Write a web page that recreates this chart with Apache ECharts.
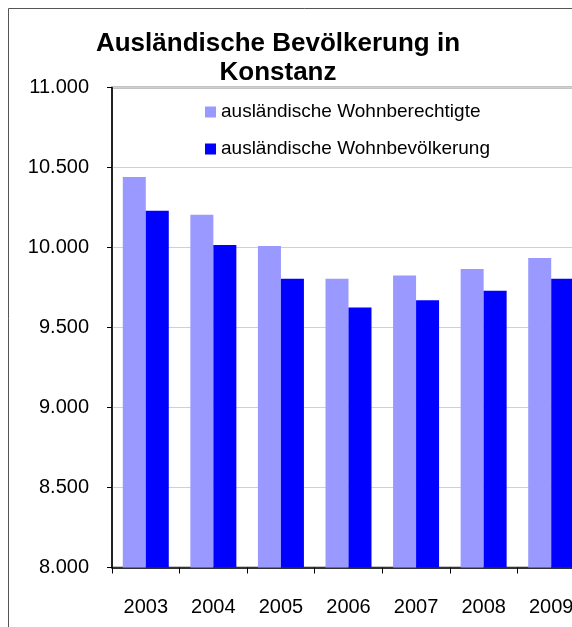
<!DOCTYPE html>
<html>
<head>
<meta charset="utf-8">
<script src="https://cdn.jsdelivr.net/npm/echarts@6/dist/echarts.min.js"></script>
<style>
  html, body { margin: 0; padding: 0; background: #fff; overflow: hidden; }
  /* the plot runs past the right edge of the picture, so the canvas is wider than the window */
  #main { width: 600px; height: 627px; }
</style>
</head>
<body>
<div id="main"></div>
<script>
// Ausländische Bevölkerung in Konstanz
var years = ['2003', '2004', '2005', '2006', '2007', '2008', '2009'];
var wohnberechtigte = [10440, 10205, 10010, 9805, 9825, 9865, 9935];
var wohnbevoelkerung = [10230, 10015, 9805, 9625, 9670, 9730, 9805];
var seriesNames = ['ausländische Wohnberechtigte', 'ausländische Wohnbevölkerung'];

var font = '"Liberation Sans", Arial, sans-serif';

// 11000 -> "11.000"
function fmt(v) {
  return String(v).replace(/\B(?=(\d{3})+(?!\d))/g, '.');
}

var chart = echarts.init(document.getElementById('main'));

var option = {
  animation: false,
  backgroundColor: '#fff',
  textStyle: { fontFamily: font },
  title: {
    text: 'Ausländische Bevölkerung in\nKonstanz',
    left: 273,
    top: 24,
    textAlign: 'center',
    textStyle: {
      fontFamily: font,
      fontSize: 26,
      fontWeight: 'bold',
      lineHeight: 29,
      color: '#000'
    }
  },
  legend: {
    orient: 'vertical',
    left: 205,
    top: 102,
    padding: 0,
    itemWidth: 11,
    itemHeight: 11,
    itemGap: 17,
    icon: 'rect',
    textStyle: { fontFamily: font, fontSize: 19, lineHeight: 20, color: '#000' },
    data: seriesNames
  },
  graphic: [{
    // outer chart frame, only left and top edges are visible
    type: 'rect',
    shape: { x: 8.5, y: 8.5, width: 700, height: 700 },
    style: { fill: 'none', stroke: '#555', lineWidth: 1 },
    silent: true
  }],
  grid: {
    left: 112,
    top: 87.5,
    right: 15,
    height: 480,
    show: true,
    borderColor: '#888',
    borderWidth: 2,
    backgroundColor: 'transparent'
  },
  xAxis: {
    type: 'category',
    data: years,
    axisLine: { lineStyle: { color: '#000', width: 1.5 } },
    axisTick: { show: true, length: 6, lineStyle: { color: '#000' } },
    axisLabel: { color: '#000', fontSize: 20, fontFamily: font, margin: 30 }
  },
  yAxis: {
    type: 'value',
    min: 8000,
    max: 11000,
    interval: 500,
    axisLine: { show: true, lineStyle: { color: '#000', width: 1.5 } },
    axisTick: { show: true, length: 5, lineStyle: { color: '#000' } },
    axisLabel: { color: '#000', fontSize: 20, fontFamily: font, margin: 23, formatter: fmt },
    splitLine: { lineStyle: { color: '#d0d0d0', width: 1 } }
  },
  series: [{
    name: seriesNames[0],
    type: 'bar',
    data: wohnberechtigte,
    barWidth: 23,
    barGap: '0%',
    itemStyle: { color: '#9999FF' }
  }, {
    name: seriesNames[1],
    type: 'bar',
    data: wohnbevoelkerung,
    barWidth: 23,
    itemStyle: { color: '#0000FF' }
  }]
};

chart.setOption(option);
</script>
</body>
</html>
